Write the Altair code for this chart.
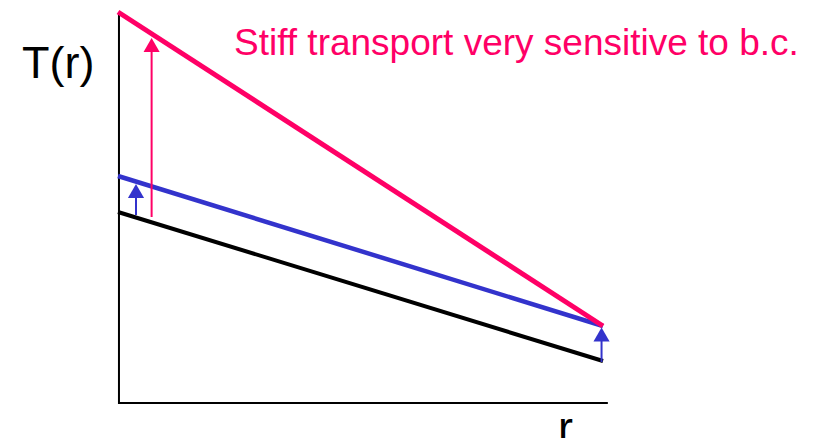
import altair as alt
import pandas as pd

# Profiles T(r): r at core (0) and edge (1)
r_ends = [0.0, 1.0]
T_base = [1.91, 0.42]       # black: reference profile
T_shift = [2.27, 0.77]      # blue: raised boundary, same gradient
T_stiff = [3.91, 0.77]      # pink: stiff transport
series_names = ["base", "shifted", "stiff"]
series_colors = ["#000000", "#3333CC", "#FF0066"]
series_widths = [4, 4.5, 5]

# Axis frame
axis_r = [0.002, 0.002, 1.01]
axis_T = [3.90, 0.0, 0.0]

# Arrows: x, start T, head centre T, colour
arrow_r = [0.0693, 0.0371, 0.997]
arrow_T0 = [1.86, 1.88, 0.41]
arrow_T1 = [3.60, 2.09, 0.66]
arrow_head = [3.58, 2.12, 0.685]
arrow_color = ["#FF0066", "#3333CC", "#3333CC"]

# Text labels
label_text = ["Stiff transport very sensitive to b.c.", "T(r)", "r"]
label_r = [0.2392, -0.1979, 0.907]
label_T = [3.48, 3.25, -0.40]
label_size = [37, 45, 45]
label_color = ["#FF0066", "#000000", "#000000"]

xs = alt.Scale(domain=[-0.2268, 1.4165], nice=False, zero=False)
ys = alt.Scale(domain=[-0.35, 3.95], nice=False, zero=False)

layers = []

axis_df = pd.DataFrame({"r": axis_r, "T": axis_T, "o": [0, 1, 2]})
layers.append(
    alt.Chart(axis_df).mark_line(color="black", strokeWidth=2).encode(
        x=alt.X("r:Q", scale=xs, axis=None),
        y=alt.Y("T:Q", scale=ys, axis=None),
        order="o:Q",
    )
)

for name, Ts, col, w in zip(series_names, [T_base, T_shift, T_stiff], series_colors, series_widths):
    df = pd.DataFrame({"r": r_ends, "T": Ts})
    layers.append(
        alt.Chart(df).mark_line(color=col, strokeWidth=w).encode(
            x=alt.X("r:Q", scale=xs, axis=None),
            y=alt.Y("T:Q", scale=ys, axis=None),
        )
    )

arr_df = pd.DataFrame({"r": arrow_r, "T0": arrow_T0, "T1": arrow_T1,
                       "Th": arrow_head, "c": arrow_color})
layers.append(
    alt.Chart(arr_df).mark_rule(strokeWidth=2).encode(
        x=alt.X("r:Q", scale=xs, axis=None),
        y=alt.Y("T0:Q", scale=ys, axis=None),
        y2="T1:Q",
        color=alt.Color("c:N", scale=None),
    )
)
layers.append(
    alt.Chart(arr_df).mark_point(shape="triangle-up", filled=True, size=260, opacity=1).encode(
        x=alt.X("r:Q", scale=xs, axis=None),
        y=alt.Y("Th:Q", scale=ys, axis=None),
        color=alt.Color("c:N", scale=None),
    )
)

lab_df = pd.DataFrame({"t": label_text, "r": label_r, "T": label_T,
                       "s": label_size, "c": label_color})
layers.append(
    alt.Chart(lab_df).mark_text(align="left", baseline="alphabetic", font="Liberation Sans").encode(
        x=alt.X("r:Q", scale=xs, axis=None),
        y=alt.Y("T:Q", scale=ys, axis=None),
        text="t:N",
        size=alt.Size("s:Q", scale=None),
        color=alt.Color("c:N", scale=None),
    )
)

chart = alt.layer(*layers).properties(
    width=797, height=430, padding=0,
    autosize=alt.AutoSizeParams(type="none"),
).configure_view(stroke=None)

chart.save("out.html", embed_options={"renderer": "svg", "actions": False})
